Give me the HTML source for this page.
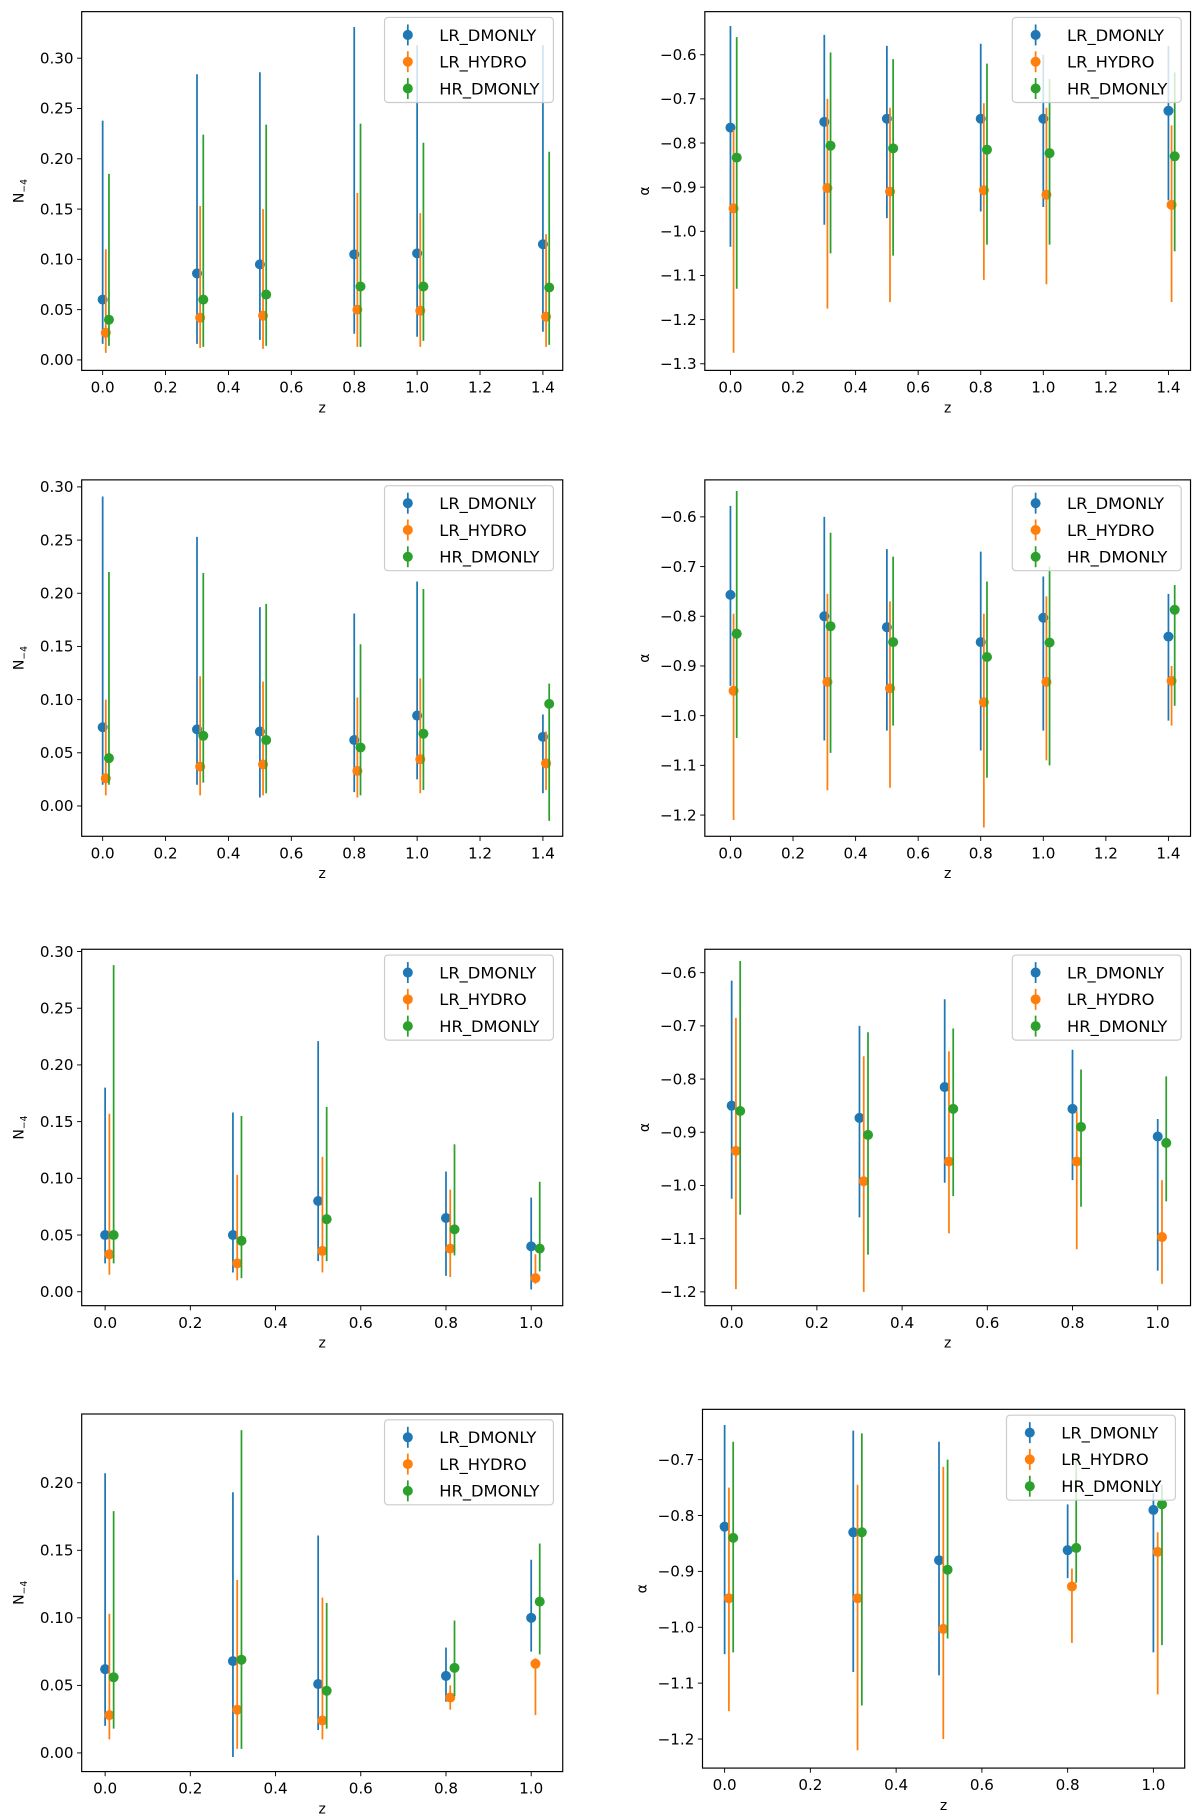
<!DOCTYPE html>
<html><head><meta charset="utf-8"><style>
html,body{margin:0;padding:0;background:#fff;}
svg{display:block;font-family:"DejaVu Sans","Liberation Sans",sans-serif;}
</style></head><body>
<svg id="fig" width="1200" height="1817" viewBox="0 0 1030 1560" xmlns="http://www.w3.org/2000/svg"></svg>
<script>
const seriesNames = ["LR_DMONLY","LR_HYDRO","HR_DMONLY"];
const colors = ["#1f77b4","#ff7f0e","#2ca02c"];
const offsets = [0,0.01,0.02];
const z6 = [0,0.3,0.5,0.8,1.0,1.4];
const z5 = [0,0.3,0.5,0.8,1.0];

// Panel 1: N row1
const p1Val = [[0.060,0.086,0.095,0.105,0.106,0.115],[0.027,0.042,0.044,0.050,0.049,0.043],[0.040,0.060,0.065,0.073,0.073,0.072]];
const p1Lo = [[0.016,0.016,0.020,0.026,0.023,0.028],[0.007,0.012,0.011,0.013,0.013,0.013],[0.014,0.013,0.014,0.013,0.019,0.015]];
const p1Hi = [[0.238,0.284,0.286,0.331,0.313,0.313],[0.110,0.153,0.150,0.166,0.146,0.125],[0.185,0.224,0.234,0.235,0.216,0.207]];
// Panel 2: alpha row1
const p2Val = [[-0.765,-0.752,-0.745,-0.745,-0.745,-0.727],[-0.948,-0.902,-0.910,-0.907,-0.917,-0.940],[-0.833,-0.806,-0.812,-0.815,-0.823,-0.830]];
const p2Lo = [[-1.035,-0.985,-0.97,-0.955,-0.945,-0.93],[-1.275,-1.175,-1.16,-1.11,-1.12,-1.16],[-1.13,-1.05,-1.055,-1.03,-1.03,-1.045]];
const p2Hi = [[-0.535,-0.555,-0.58,-0.575,-0.6,-0.58],[-0.77,-0.70,-0.72,-0.71,-0.72,-0.76],[-0.56,-0.595,-0.61,-0.62,-0.655,-0.64]];
// Panel 3: N row2
const p3Val = [[0.074,0.072,0.070,0.062,0.085,0.065],[0.026,0.037,0.039,0.033,0.044,0.040],[0.045,0.066,0.062,0.055,0.068,0.096]];
const p3Lo = [[0.020,0.020,0.008,0.013,0.025,0.012],[0.010,0.010,0.010,0.008,0.012,0.015],[0.020,0.022,0.012,0.010,0.015,-0.014]];
const p3Hi = [[0.291,0.253,0.187,0.181,0.211,0.086],[0.100,0.122,0.117,0.102,0.120,0.070],[0.220,0.219,0.190,0.152,0.204,0.115]];
// Panel 4: alpha row2
const p4Val = [[-0.757,-0.800,-0.822,-0.852,-0.803,-0.841],[-0.950,-0.932,-0.945,-0.973,-0.932,-0.930],[-0.835,-0.820,-0.852,-0.882,-0.853,-0.787]];
const p4Lo = [[-0.94,-1.05,-1.03,-1.07,-1.03,-1.01],[-1.21,-1.15,-1.145,-1.225,-1.09,-1.02],[-1.045,-1.075,-1.02,-1.125,-1.10,-0.98]];
const p4Hi = [[-0.578,-0.600,-0.665,-0.670,-0.72,-0.755],[-0.795,-0.755,-0.77,-0.795,-0.76,-0.90],[-0.548,-0.632,-0.68,-0.73,-0.70,-0.737]];
// Panel 5: N row3
const p5Val = [[0.050,0.050,0.080,0.065,0.040],[0.033,0.025,0.036,0.038,0.012],[0.050,0.045,0.064,0.055,0.038]];
const p5Lo = [[0.025,0.017,0.027,0.014,0.002],[0.015,0.010,0.017,0.013,0.007],[0.025,0.012,0.027,0.032,0.018]];
const p5Hi = [[0.180,0.158,0.221,0.106,0.083],[0.157,0.103,0.119,0.090,0.033],[0.288,0.155,0.163,0.130,0.097]];
// Panel 6: alpha row3
const p6Val = [[-0.850,-0.873,-0.815,-0.856,-0.908],[-0.935,-0.992,-0.955,-0.955,-1.097],[-0.860,-0.905,-0.856,-0.890,-0.920]];
const p6Lo = [[-1.025,-1.06,-0.995,-0.99,-1.16],[-1.195,-1.20,-1.09,-1.12,-1.185],[-1.055,-1.13,-1.02,-1.04,-1.03]];
const p6Hi = [[-0.615,-0.70,-0.65,-0.745,-0.875],[-0.685,-0.757,-0.748,-0.86,-0.99],[-0.578,-0.712,-0.705,-0.782,-0.795]];
// Panel 7: N row4
const p7Val = [[0.062,0.068,0.051,0.057,0.100],[0.028,0.032,0.024,0.041,0.066],[0.056,0.069,0.046,0.063,0.112]];
const p7Lo = [[0.020,-0.003,0.017,0.038,0.075],[0.010,0.003,0.010,0.032,0.028],[0.018,0.003,0.018,0.042,0.073]];
const p7Hi = [[0.207,0.193,0.161,0.078,0.143],[0.103,0.128,0.115,0.050,0.070],[0.179,0.239,0.111,0.098,0.155]];
// Panel 8: alpha row4
const p8Val = [[-0.82,-0.83,-0.88,-0.862,-0.79],[-0.948,-0.948,-1.003,-0.927,-0.865],[-0.84,-0.83,-0.897,-0.858,-0.78]];
const p8Lo = [[-1.048,-1.08,-1.086,-0.912,-1.045],[-1.15,-1.22,-1.20,-1.028,-1.12],[-1.045,-1.14,-1.02,-0.92,-1.032]];
const p8Hi = [[-0.638,-0.648,-0.668,-0.78,-0.76],[-0.75,-0.745,-0.713,-0.895,-0.83],[-0.668,-0.653,-0.70,-0.70,-0.745]];

const nTicks6 = [0,0.05,0.10,0.15,0.20,0.25,0.30];
const nTicks4 = [0,0.05,0.10,0.15,0.20];
const aTicks1 = [-0.6,-0.7,-0.8,-0.9,-1.0,-1.1,-1.2,-1.3];
const aTicks2 = [-0.6,-0.7,-0.8,-0.9,-1.0,-1.1,-1.2];
const aTicks4 = [-0.7,-0.8,-0.9,-1.0,-1.1,-1.2];
const xTicksA = [0,0.2,0.4,0.6,0.8,1.0,1.2,1.4];
const xTicksB = [0,0.2,0.4,0.6,0.8,1.0];

const svg = document.getElementById('fig');
const NS = "http://www.w3.org/2000/svg";
function mk(tag, attrs, parent){const e=document.createElementNS(NS,tag);for(const k in attrs)e.setAttribute(k,attrs[k]);(parent||svg).appendChild(e);return e;}

function panel(cfg){
  const g = mk('g',{});
  
  
  const sx = v => cfg.L + (v-cfg.xmin)/(cfg.xmax-cfg.xmin)*(cfg.R-cfg.L);
  const sy = v => cfg.B - (v-cfg.ymin)/(cfg.ymax-cfg.ymin)*(cfg.B-cfg.T);
  // y ticks
  cfg.yticks.forEach(t=>{
    const y=sy(t);
    const tk=mk('line',{x1:cfg.L-4,x2:cfg.L,y1:y,y2:y,stroke:'#000','stroke-width':0.8},g);
    
    
    const lb=mk('text',{x:cfg.L-7,y:y+4.5,'font-size':13,'text-anchor':'end',fill:'#000'},g);
    
    
    lb.textContent = cfg.alpha ? ('\u2212'+Math.abs(t).toFixed(1)) : t.toFixed(2);
  });
  cfg.xticks.forEach(t=>{
    const x=sx(t);
    const tk=mk('line',{x1:x,x2:x,y1:cfg.B,y2:cfg.B+4,stroke:'#000','stroke-width':0.8},g);
    
    
    const lb=mk('text',{x:x,y:cfg.B+19,'font-size':13,'text-anchor':'middle',fill:'#000'},g);
    
    
    lb.textContent=t.toFixed(1);
  });
  const xl=mk('text',{x:(cfg.L+cfg.R)/2,y:cfg.B+36,'font-size':12,'text-anchor':'middle'},g);
  
  
  xl.textContent='z';
  const ylx = cfg.alpha ? cfg.L-48 : cfg.L-50;
  const yl=mk('text',{x:ylx,y:(cfg.T+cfg.B)/2,'font-size':12,'text-anchor':'middle',transform:`rotate(-90 ${ylx} ${(cfg.T+cfg.B)/2})`},g);
  
  
  if(cfg.alpha){yl.textContent='\u03b1';}
  else{yl.textContent='N';const s=mk('tspan',{'font-size':8,dy:3},yl);s.textContent='\u22124';}
  // series
  for(let s=0;s<3;s++){
    const sg=mk('g',{},g);
    
    
    cfg.z.forEach((zz,i)=>{
      const x=sx(zz+offsets[s]);
      const eb=mk('line',{x1:x,x2:x,y1:sy(cfg.lo[s][i]),y2:sy(cfg.hi[s][i]),stroke:colors[s],'stroke-width':1.5},sg);
      
      
      const pt=mk('circle',{cx:x,cy:sy(cfg.val[s][i]),r:4.3,fill:colors[s]},sg);
      
      
    });
  }
  const fr=mk('rect',{x:cfg.L,y:cfg.T,width:cfg.R-cfg.L,height:cfg.B-cfg.T,fill:'none',stroke:'#000','stroke-width':1},g);
  
  
  // legend
  const lg=mk('g',{},g);
  
  
  const lx=cfg.R-153, ly=cfg.T+5;
  mk('rect',{x:lx,y:ly,width:145,height:73,rx:3,fill:'#fff','fill-opacity':0.8,stroke:'#ccc','stroke-width':1},lg);
  for(let s=0;s<3;s++){
    const e=mk('g',{},lg);
    
    
    const yy=ly+15+s*23;
    mk('line',{x1:lx+20,x2:lx+20,y1:yy-9,y2:yy+9,stroke:colors[s],'stroke-width':1.5},e);
    mk('circle',{cx:lx+20,cy:yy,r:4.3,fill:colors[s]},e);
    const t=mk('text',{x:lx+47,y:yy+5,'font-size':14},e);
    t.textContent=seriesNames[s];
  }
}

panel({name:'panel-n-row1',L:70,R:483,T:10,B:318,xmin:-0.0667,xmax:1.463,ymin:-0.0104,ymax:0.3463,z:z6,val:p1Val,lo:p1Lo,hi:p1Hi,yticks:nTicks6,xticks:xTicksA,alpha:false});
panel({name:'panel-alpha-row1',L:605,R:1022,T:10,B:318,xmin:-0.0819,xmax:1.4706,ymin:-1.315,ymax:-0.5024,z:z6,val:p2Val,lo:p2Lo,hi:p2Hi,yticks:aTicks1,xticks:xTicksA,alpha:true});
panel({name:'panel-n-row2',L:70,R:483,T:412,B:718,xmin:-0.0667,xmax:1.463,ymin:-0.0285,ymax:0.3066,z:z6,val:p3Val,lo:p3Lo,hi:p3Hi,yticks:nTicks6,xticks:xTicksA,alpha:false});
panel({name:'panel-alpha-row2',L:605,R:1022,T:412,B:718,xmin:-0.0819,xmax:1.4706,ymin:-1.2427,ymax:-0.5256,z:z6,val:p4Val,lo:p4Lo,hi:p4Hi,yticks:aTicks2,xticks:xTicksA,alpha:true});
panel({name:'panel-n-row3',L:70,R:483,T:815,B:1121,xmin:-0.055,xmax:1.074,ymin:-0.0123,ymax:0.302,z:z5,val:p5Val,lo:p5Lo,hi:p5Hi,yticks:nTicks6,xticks:xTicksB,alpha:false});
panel({name:'panel-alpha-row3',L:605,R:1022,T:815,B:1121,xmin:-0.063,xmax:1.077,ymin:-1.226,ymax:-0.556,z:z5,val:p6Val,lo:p6Lo,hi:p6Hi,yticks:aTicks2,xticks:xTicksB,alpha:true});
panel({name:'panel-n-row4',L:70,R:483,T:1214,B:1521,xmin:-0.055,xmax:1.074,ymin:-0.0138,ymax:0.2509,z:z5,val:p7Val,lo:p7Lo,hi:p7Hi,yticks:nTicks4,xticks:xTicksB,alpha:false});
panel({name:'panel-alpha-row4',L:603,R:1017,T:1210,B:1518,xmin:-0.0516,xmax:1.073,ymin:-1.252,ymax:-0.610,z:z5,val:p8Val,lo:p8Lo,hi:p8Hi,yticks:aTicks4,xticks:xTicksB,alpha:true});
</script>
</body></html>
